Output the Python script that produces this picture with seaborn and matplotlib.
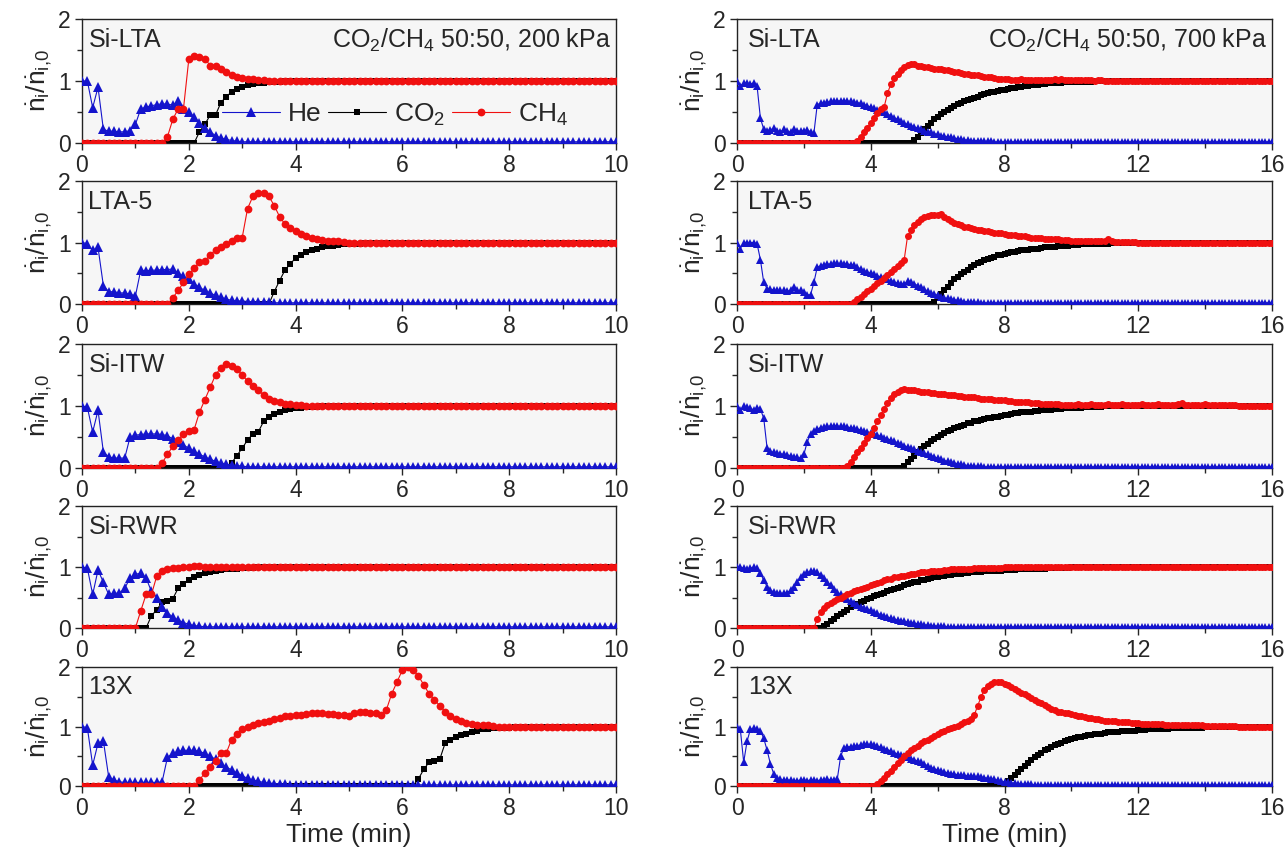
import numpy as np
import pandas as pd
import matplotlib
matplotlib.use("Agg")
import matplotlib.pyplot as plt
import seaborn as sns
from matplotlib.ticker import MultipleLocator
from matplotlib.lines import Line2D

# ---------------- data ----------------
materials = ["Si-LTA", "LTA-5", "Si-ITW", "Si-RWR", "13X"]
conditions = ["CO$_2$/CH$_4$ 50:50, 200 kPa", "CO$_2$/CH$_4$ 50:50, 700 kPa"]
species = ["He", "CO$_2$", "CH$_4$"]
xmax_200, xmax_700 = 10, 16
xticks_200 = [0, 2, 4, 6, 8, 10]
xticks_700 = [0, 4, 8, 12, 16]
yticks = [0, 1, 2]

N_L = 101   # 0 ... 10 min, 0.1 min step
N_R = 161   # 0 ... 16 min, 0.1 min step
t_200 = [round(i * 0.1, 1) for i in range(N_L)]
t_700 = [round(i * 0.1, 1) for i in range(N_R)]


def series(head, tail, n):
    return head + [tail] * (n - len(head))


# ---- 200 kPa ----
he_L_silta = [1.0, 1.0, 0.57, 0.9, 0.22, 0.19, 0.19, 0.18, 0.18, 0.2, 0.3, 0.55, 0.58, 0.6, 0.62, 0.63,
              0.63, 0.61, 0.67, 0.55, 0.5, 0.42, 0.33, 0.24, 0.18, 0.12, 0.08, 0.06, 0.04, 0.03]
co2_L_silta = [0.0] * 22 + [0.18, 0.3, 0.45, 0.45, 0.65, 0.75, 0.82, 0.87, 0.9, 0.93, 0.95, 0.96, 0.97,
                            0.98, 0.98, 0.99]
ch4_L_silta = [0.0] * 16 + [0.1, 0.38, 0.55, 0.55, 1.35, 1.4, 1.38, 1.36, 1.25, 1.25, 1.2, 1.15, 1.1,
                            1.07, 1.05, 1.04, 1.03, 1.02, 1.01]

he_L_lta5 = [1.0, 0.98, 0.87, 0.92, 0.3, 0.2, 0.2, 0.18, 0.18, 0.16, 0.13, 0.55, 0.54, 0.55, 0.55, 0.56,
             0.56, 0.57, 0.5, 0.45, 0.4, 0.33, 0.27, 0.22, 0.18, 0.14, 0.11, 0.08, 0.06, 0.05, 0.05, 0.04,
             0.04, 0.03, 0.03, 0.03]
co2_L_lta5 = [0.0] * 36 + [0.2, 0.38, 0.55, 0.65, 0.75, 0.8, 0.85, 0.88, 0.9, 0.92, 0.94, 0.95, 0.96,
                           0.97, 0.97, 0.98, 0.98, 0.99]
ch4_L_lta5 = [0.0] * 17 + [0.1, 0.22, 0.35, 0.48, 0.58, 0.68, 0.7, 0.8, 0.88, 0.93, 0.98, 1.03, 1.07,
                           1.08, 1.55, 1.75, 1.8, 1.8, 1.75, 1.6, 1.42, 1.3, 1.24, 1.18, 1.14, 1.1, 1.07,
                           1.05, 1.04, 1.03, 1.02, 1.02, 1.01]

he_L_siitw = [1.0, 0.98, 0.58, 0.93, 0.26, 0.18, 0.16, 0.16, 0.16, 0.5, 0.53, 0.54, 0.55, 0.55, 0.55,
              0.54, 0.52, 0.47, 0.42, 0.37, 0.32, 0.27, 0.22, 0.18, 0.14, 0.11, 0.08, 0.06, 0.05, 0.04,
              0.03]
co2_L_siitw = [0.0] * 28 + [0.08, 0.2, 0.32, 0.45, 0.55, 0.58, 0.75, 0.82, 0.87, 0.91, 0.93, 0.95, 0.96,
                            0.97, 0.98, 0.98, 0.99]
ch4_L_siitw = [0.0] * 15 + [0.08, 0.22, 0.35, 0.45, 0.55, 0.6, 0.62, 0.9, 1.1, 1.3, 1.5, 1.62, 1.68,
                            1.65, 1.6, 1.5, 1.4, 1.32, 1.25, 1.18, 1.12, 1.08, 1.06, 1.04, 1.03, 1.02,
                            1.01]

he_L_sirwr = [1.0, 0.98, 0.55, 0.95, 0.75, 0.55, 0.57, 0.57, 0.65, 0.82, 0.88, 0.9, 0.82, 0.6, 0.5, 0.35,
              0.25, 0.18, 0.13, 0.09, 0.06, 0.04, 0.03]
co2_L_sirwr = [0.0] * 13 + [0.2, 0.3, 0.42, 0.45, 0.48, 0.65, 0.72, 0.78, 0.83, 0.87, 0.9, 0.92, 0.94,
                            0.95, 0.96, 0.97, 0.97, 0.98, 0.98, 0.99]
ch4_L_sirwr = [0.0] * 11 + [0.28, 0.55, 0.55, 0.85, 0.93, 0.96, 0.98, 0.99, 1.0, 1.0, 1.01, 1.01]

he_L_13x = [1.0, 0.98, 0.35, 0.72, 0.76, 0.15, 0.1, 0.07, 0.06, 0.06, 0.06, 0.06, 0.06, 0.06, 0.06, 0.07,
            0.48, 0.55, 0.58, 0.6, 0.6, 0.6, 0.58, 0.55, 0.5, 0.45, 0.38, 0.32, 0.27, 0.22, 0.17, 0.13,
            0.1, 0.08, 0.06, 0.05, 0.04, 0.04, 0.03]
co2_L_13x = [0.0] * 63 + [0.12, 0.28, 0.4, 0.42, 0.45, 0.72, 0.78, 0.82, 0.85, 0.88, 0.9, 0.93, 0.95,
                          0.96, 0.97, 0.97, 0.98, 0.98, 0.99]
ch4_L_13x = [0.0] * 22 + [0.1, 0.22, 0.32, 0.42, 0.55, 0.55, 0.78, 0.88, 0.95, 1.0, 1.03, 1.06, 1.08, 1.1,
                          1.13, 1.15, 1.17, 1.18, 1.19, 1.2, 1.21, 1.22, 1.22, 1.22, 1.21, 1.21, 1.2,
                          1.19, 1.18, 1.22, 1.25, 1.25, 1.22, 1.22, 1.2, 1.28, 1.55, 1.75, 1.95, 2.0,
                          1.95, 1.85, 1.7, 1.55, 1.45, 1.35, 1.25, 1.18, 1.13, 1.09, 1.06, 1.04, 1.03,
                          1.02, 1.02, 1.01]

# ---- 700 kPa ----
he_R_silta = [1.0, 0.92, 0.97, 0.97, 0.95, 0.97, 0.92, 0.4, 0.22, 0.2,
              0.21, 0.24, 0.2, 0.18, 0.22, 0.2, 0.17, 0.22, 0.2, 0.19,
              0.2, 0.21, 0.18, 0.16, 0.62, 0.64, 0.65, 0.66, 0.67, 0.67,
              0.68, 0.68, 0.68, 0.68, 0.67, 0.66, 0.65, 0.64, 0.62, 0.6,
              0.58, 0.56, 0.54, 0.52, 0.5, 0.47, 0.44, 0.41, 0.38, 0.35,
              0.32, 0.3, 0.28, 0.26, 0.24, 0.22, 0.2, 0.18, 0.17, 0.15,
              0.14, 0.12, 0.11, 0.1, 0.09, 0.08, 0.07, 0.06, 0.05, 0.05,
              0.04, 0.04, 0.04, 0.03, 0.03, 0.03, 0.03]
ch4_R_silta = [0.0] * 36 + [0.04, 0.1, 0.17, 0.25,
                            0.32, 0.4, 0.48, 0.55, 0.58, 0.8, 0.95, 1.05, 1.12, 1.18,
                            1.22, 1.26, 1.28, 1.27, 1.25, 1.24, 1.23, 1.22, 1.21, 1.2,
                            1.2, 1.19, 1.18, 1.17, 1.16, 1.15, 1.14, 1.13, 1.12, 1.11,
                            1.1, 1.1, 1.09, 1.08, 1.07, 1.07, 1.06, 1.05, 1.04, 1.04,
                            1.03, 1.03, 1.02, 1.02, 1.02, 1.03, 1.02, 1.02, 1.01, 1.02,
                            1.02, 1.01, 1.02, 1.01, 1.01, 1.03, 1.02, 1.04, 1.01, 1.02,
                            1.01, 1.02, 1.01, 1.01, 1.02, 1.01, 1.01, 1.0, 1.01, 1.01]
co2_R_silta = [0.0] * 53 + [0.05, 0.1, 0.16, 0.22, 0.28, 0.33, 0.38,
                            0.42, 0.46, 0.5, 0.54, 0.57, 0.6, 0.63, 0.65, 0.67, 0.69,
                            0.71, 0.73, 0.75, 0.77, 0.79, 0.8, 0.82, 0.83, 0.84, 0.85,
                            0.86, 0.87, 0.88, 0.89, 0.9, 0.91, 0.92, 0.92, 0.93, 0.94,
                            0.94, 0.95, 0.95, 0.96, 0.96, 0.97, 0.97, 0.97, 0.98, 0.98,
                            0.98, 0.98, 0.99, 0.99, 0.99, 0.99, 0.99]

he_R_lta5 = [1.0, 0.9, 1.0, 1.0, 1.0, 1.0, 0.98, 0.72, 0.35, 0.25,
             0.24, 0.23, 0.22, 0.22, 0.22, 0.21, 0.22, 0.28, 0.22, 0.22,
             0.2, 0.15, 0.15, 0.35, 0.6, 0.62, 0.64, 0.65, 0.65, 0.66,
             0.66, 0.66, 0.65, 0.65, 0.64, 0.63, 0.6, 0.57, 0.54, 0.52,
             0.5, 0.48, 0.46, 0.44, 0.42, 0.4, 0.38, 0.36, 0.34, 0.33,
             0.32, 0.38, 0.36, 0.33, 0.3, 0.27, 0.24, 0.21, 0.18, 0.16,
             0.14, 0.12, 0.1, 0.09, 0.08, 0.07, 0.06, 0.05, 0.04, 0.04,
             0.03, 0.03, 0.03]
ch4_R_lta5 = [0.0] * 35 + [0.04, 0.08, 0.12, 0.17, 0.21,
                           0.25, 0.3, 0.34, 0.38, 0.43, 0.47, 0.52, 0.57, 0.62, 0.66,
                           0.72, 1.1, 1.2, 1.28, 1.34, 1.38, 1.41, 1.43, 1.44, 1.45,
                           1.45, 1.46, 1.42, 1.38, 1.35, 1.32, 1.3, 1.28, 1.26, 1.25,
                           1.24, 1.22, 1.21, 1.2, 1.19, 1.18, 1.17, 1.16, 1.15, 1.15,
                           1.14, 1.13, 1.12, 1.12, 1.11, 1.1, 1.1, 1.09, 1.08, 1.08,
                           1.07, 1.07, 1.06, 1.06, 1.05, 1.05, 1.05, 1.04, 1.04, 1.04,
                           1.03, 1.03, 1.03, 1.03, 1.02, 1.02, 1.02, 1.02, 1.02, 1.02,
                           1.02, 1.05, 1.02, 1.01, 1.01, 1.01, 1.01, 1.01, 1.01, 1.01]
co2_R_lta5 = [0.0] * 59 + [0.04, 0.1, 0.16, 0.22, 0.28, 0.34, 0.4, 0.44, 0.48, 0.52, 0.56,
                           0.6, 0.63, 0.66, 0.69, 0.71, 0.73, 0.75, 0.77, 0.79, 0.8,
                           0.81, 0.83, 0.84, 0.85, 0.86, 0.87, 0.88, 0.88, 0.89, 0.9,
                           0.9, 0.91, 0.92, 0.92, 0.93, 0.93, 0.94, 0.94, 0.95, 0.95,
                           0.96, 0.96, 0.96, 0.97, 0.97, 0.97, 0.97, 0.98, 0.98, 0.98,
                           0.98, 0.98, 0.99, 0.99, 0.99, 0.99, 0.99, 0.99, 0.99, 0.99]

he_R_siitw = [1.0, 0.93, 1.0, 0.98, 0.97, 0.93, 0.97, 0.95, 0.8, 0.32,
              0.27, 0.25, 0.24, 0.23, 0.22, 0.21, 0.2, 0.18, 0.17, 0.16,
              0.22, 0.42, 0.55, 0.6, 0.63, 0.65, 0.66, 0.67, 0.68, 0.68,
              0.68, 0.67, 0.67, 0.66, 0.65, 0.64, 0.63, 0.61, 0.6, 0.58,
              0.57, 0.55, 0.53, 0.51, 0.49, 0.47, 0.45, 0.43, 0.41, 0.38,
              0.36, 0.34, 0.32, 0.3, 0.28, 0.26, 0.24, 0.22, 0.2, 0.18,
              0.16, 0.14, 0.12, 0.11, 0.1, 0.08, 0.07, 0.06, 0.05, 0.04,
              0.04, 0.03, 0.03, 0.03]
ch4_R_siitw = [0.0] * 33 + [0.04, 0.1, 0.17, 0.25, 0.33, 0.41, 0.48,
                            0.55, 0.65, 0.75, 0.85, 0.95, 1.05, 1.13, 1.19, 1.23, 1.26,
                            1.27, 1.26, 1.25, 1.25, 1.24, 1.23, 1.23, 1.22, 1.21, 1.21,
                            1.2, 1.19, 1.19, 1.18, 1.17, 1.17, 1.16, 1.16, 1.15, 1.15,
                            1.14, 1.14, 1.13, 1.12, 1.12, 1.11, 1.11, 1.1, 1.1, 1.09,
                            1.09, 1.08, 1.08, 1.07, 1.07, 1.07, 1.06, 1.06, 1.05, 1.05,
                            1.05, 1.04, 1.04, 1.04, 1.03, 1.03, 1.03, 1.02, 1.02, 1.02,
                            1.02, 1.01, 1.03, 1.02, 1.01, 1.02, 1.03, 1.01, 1.02, 1.02,
                            1.01, 1.03, 1.02, 1.01, 1.02, 1.03, 1.02, 1.01, 1.02, 1.01,
                            1.02, 1.03, 1.01, 1.02, 1.02, 1.01, 1.03, 1.02, 1.01, 1.02,
                            1.01, 1.02, 1.03, 1.05, 1.02, 1.01, 1.02, 1.01, 1.02, 1.02,
                            1.03, 1.02, 1.01, 1.02, 1.01, 1.02, 1.02, 1.01, 1.01, 1.02]
co2_R_siitw = [0.0] * 50 + [0.04, 0.1, 0.15, 0.2, 0.25, 0.3, 0.35, 0.39, 0.43, 0.47,
                            0.5, 0.53, 0.56, 0.59, 0.62, 0.64, 0.66, 0.68, 0.7, 0.72,
                            0.73, 0.75, 0.76, 0.78, 0.79, 0.8, 0.81, 0.82, 0.83, 0.84,
                            0.85, 0.86, 0.87, 0.88, 0.89, 0.9, 0.9, 0.91, 0.91, 0.92,
                            0.92, 0.93, 0.93, 0.94, 0.94, 0.95, 0.95, 0.95, 0.96, 0.96,
                            0.96, 0.97, 0.97, 0.97, 0.98, 0.98, 0.98, 0.98, 0.99, 0.99]

he_R_sirwr = [1.0, 1.0, 0.98, 0.97, 0.98, 1.0, 0.98, 0.9, 0.78, 0.68,
              0.62, 0.59, 0.58, 0.57, 0.57, 0.58, 0.62, 0.68, 0.76, 0.83,
              0.88, 0.91, 0.93, 0.93, 0.91, 0.87, 0.82, 0.76, 0.7, 0.64,
              0.59, 0.55, 0.5, 0.47, 0.44, 0.41, 0.38, 0.35, 0.33, 0.31,
              0.29, 0.26, 0.24, 0.22, 0.2, 0.18, 0.16, 0.15, 0.13, 0.12,
              0.11, 0.1, 0.09, 0.08, 0.07, 0.06, 0.05, 0.05, 0.04, 0.04,
              0.03, 0.03, 0.03]
ch4_R_sirwr = [0.0] * 24 + [0.15, 0.26, 0.32, 0.37, 0.41, 0.44,
                            0.47, 0.5, 0.53, 0.55, 0.58, 0.6, 0.62, 0.64, 0.66, 0.68,
                            0.7, 0.72, 0.74, 0.76, 0.78, 0.8, 0.81, 0.83, 0.84, 0.85,
                            0.86, 0.87, 0.88, 0.89, 0.9, 0.91, 0.91, 0.92, 0.93, 0.93,
                            0.94, 0.94, 0.95, 0.95, 0.96, 0.96, 0.96, 0.97, 0.97, 0.97,
                            0.97, 0.98, 0.98, 0.98, 0.98, 0.99, 0.99, 0.99, 0.99, 0.99]
co2_R_sirwr = [0.0] * 26 + [0.03, 0.07, 0.11, 0.15,
                            0.19, 0.23, 0.27, 0.3, 0.34, 0.37, 0.4, 0.43, 0.45, 0.48,
                            0.5, 0.52, 0.54, 0.56, 0.58, 0.6, 0.62, 0.64, 0.66, 0.68,
                            0.7, 0.72, 0.73, 0.75, 0.76, 0.78, 0.79, 0.8, 0.82, 0.83,
                            0.84, 0.85, 0.86, 0.87, 0.87, 0.88, 0.89, 0.89, 0.9, 0.9,
                            0.91, 0.91, 0.92, 0.92, 0.93, 0.93, 0.93, 0.94, 0.94, 0.94,
                            0.95, 0.95, 0.95, 0.95, 0.96, 0.96, 0.96, 0.96, 0.97, 0.97,
                            0.97, 0.97, 0.97, 0.98, 0.98, 0.98, 0.98, 0.98, 0.98, 0.99]

he_R_13x = [1.0, 0.95, 0.4, 0.75, 0.95, 0.97, 0.95, 0.93, 0.8, 0.6,
            0.37, 0.2, 0.13, 0.11, 0.1, 0.1, 0.1, 0.09, 0.09, 0.1,
            0.1, 0.09, 0.1, 0.1, 0.09, 0.1, 0.1, 0.11, 0.1, 0.1,
            0.12, 0.5, 0.64, 0.66, 0.66, 0.67, 0.68, 0.69, 0.7, 0.7,
            0.7, 0.69, 0.67, 0.65, 0.63, 0.61, 0.59, 0.56, 0.54, 0.52,
            0.5, 0.48, 0.46, 0.44, 0.42, 0.4, 0.37, 0.34, 0.31, 0.29,
            0.27, 0.25, 0.24, 0.22, 0.21, 0.2, 0.19, 0.18, 0.18, 0.17,
            0.17, 0.16, 0.16, 0.15, 0.14, 0.13, 0.12, 0.11, 0.1, 0.08,
            0.07, 0.06, 0.05, 0.05, 0.04, 0.04, 0.03, 0.03, 0.03]
ch4_R_13x = [0.0] * 42 + [0.03, 0.08, 0.14, 0.2, 0.26, 0.32, 0.38, 0.44,
                          0.5, 0.55, 0.6, 0.64, 0.68, 0.72, 0.75, 0.78, 0.81, 0.84,
                          0.87, 0.9, 0.93, 0.95, 0.97, 0.99, 1.01, 1.04, 1.07, 1.1,
                          1.13, 1.2, 1.35, 1.5, 1.62, 1.68, 1.72, 1.74, 1.75, 1.74,
                          1.72, 1.69, 1.66, 1.63, 1.6, 1.57, 1.54, 1.51, 1.48, 1.45,
                          1.42, 1.39, 1.36, 1.33, 1.3, 1.27, 1.25, 1.24, 1.23, 1.22,
                          1.21, 1.2, 1.18, 1.17, 1.16, 1.15, 1.14, 1.13, 1.12, 1.11,
                          1.1, 1.1, 1.09, 1.09, 1.08, 1.08, 1.07, 1.07, 1.06, 1.06,
                          1.06, 1.05, 1.05, 1.05, 1.04, 1.04, 1.04, 1.04, 1.03, 1.03,
                          1.03, 1.03, 1.03, 1.02, 1.02, 1.02, 1.02, 1.02, 1.02, 1.02,
                          1.01, 1.01, 1.01, 1.01, 1.01, 1.01, 1.01, 1.01, 1.01, 1.01]
co2_R_13x = [0.0] * 80 + [0.03, 0.08, 0.13, 0.18, 0.23, 0.28, 0.33, 0.38, 0.43, 0.48,
                          0.52, 0.56, 0.6, 0.63, 0.66, 0.69, 0.71, 0.73, 0.75, 0.77,
                          0.79, 0.8, 0.82, 0.83, 0.84, 0.85, 0.86, 0.87, 0.88, 0.88,
                          0.89, 0.9, 0.9, 0.91, 0.91, 0.92, 0.92, 0.93, 0.93, 0.93,
                          0.94, 0.94, 0.94, 0.95, 0.95, 0.95, 0.96, 0.96, 0.96, 0.96,
                          0.97, 0.97, 0.97, 0.97, 0.97, 0.98, 0.98, 0.98, 0.98, 0.98,
                          0.99, 0.99, 0.99, 0.99, 0.99, 0.99, 0.99, 0.99, 0.99, 0.99]

left_he = [he_L_silta, he_L_lta5, he_L_siitw, he_L_sirwr, he_L_13x]
left_co2 = [co2_L_silta, co2_L_lta5, co2_L_siitw, co2_L_sirwr, co2_L_13x]
left_ch4 = [ch4_L_silta, ch4_L_lta5, ch4_L_siitw, ch4_L_sirwr, ch4_L_13x]
right_he = [he_R_silta, he_R_lta5, he_R_siitw, he_R_sirwr, he_R_13x]
right_co2 = [co2_R_silta, co2_R_lta5, co2_R_siitw, co2_R_sirwr, co2_R_13x]
right_ch4 = [ch4_R_silta, ch4_R_lta5, ch4_R_siitw, ch4_R_sirwr, ch4_R_13x]

# ---------------- style ----------------
sns.set_style("ticks")
plt.rcParams["font.family"] = ["Liberation Sans", "DejaVu Sans"]
plt.rcParams["mathtext.fontset"] = "custom"
plt.rcParams["mathtext.rm"] = "Liberation Sans"
plt.rcParams["mathtext.it"] = "Liberation Sans:italic"
plt.rcParams["mathtext.default"] = "regular"

C_HE, C_CO2, C_CH4 = "#1414cc", "#000000", "#f01010"
W, H = 1287, 850
fig = plt.figure(figsize=(W / 100, H / 100), dpi=100)

col_x = [(82, 534), (737, 535)]
rows_px = [(19, 143), (181, 304), (344, 468), (506, 628), (667, 786)]
MS_HE, MS_CO2, MS_CH4 = 6.5, 4.6, 5.6

for c in range(2):
    t = t_200 if c == 0 else t_700
    n = N_L if c == 0 else N_R
    he_l = left_he if c == 0 else right_he
    co2_l = left_co2 if c == 0 else right_co2
    ch4_l = left_ch4 if c == 0 else right_ch4
    k = 1.0 if c == 0 else 0.9
    for r in range(5):
        x0, w = col_x[c]
        top, bot = rows_px[r]
        ax = fig.add_axes([x0 / W, 1 - bot / H, w / W, (bot - top) / H])
        ax.set_facecolor("#f6f6f6")
        df = pd.DataFrame({"t": t,
                           "He": series(he_l[r], 0.02, n),
                           "CO2": series(co2_l[r], 1.0, n),
                           "CH4": series(ch4_l[r], 1.0, n)})
        sns.lineplot(data=df, x="t", y="CO2", ax=ax, color=C_CO2, marker="s",
                     markersize=MS_CO2 * k, markeredgewidth=0, linewidth=0.8,
                     zorder=2, legend=False, estimator=None)
        sns.lineplot(data=df, x="t", y="He", ax=ax, color=C_HE, marker="^",
                     markersize=MS_HE * k, markeredgewidth=0, linewidth=0.8,
                     zorder=3, legend=False, estimator=None)
        sns.lineplot(data=df, x="t", y="CH4", ax=ax, color=C_CH4, marker="o",
                     markersize=MS_CH4 * k, markeredgewidth=0, linewidth=0.8,
                     zorder=4, legend=False, estimator=None)

        xmax = xmax_200 if c == 0 else xmax_700
        ax.set_xlim(0, xmax)
        ax.set_ylim(0, 2)
        ax.set_xticks(xticks_200 if c == 0 else xticks_700)
        ax.xaxis.set_minor_locator(MultipleLocator(1 if c == 0 else 2))
        ax.set_yticks(yticks)
        ax.yaxis.set_minor_locator(MultipleLocator(0.5))
        ax.tick_params(which="major", direction="out", length=5, width=1, labelsize=16.5,
                       top=False, right=False, pad=3)
        ax.tick_params(which="minor", direction="out", length=3.5, width=1,
                       top=False, right=False)
        for sp in ax.spines.values():
            sp.set_visible(True)
            sp.set_linewidth(1.0)
            sp.set_color("#222222")
        ax.set_ylabel(r"$\dot{n}_i/\dot{n}_{i{,}0}$", fontsize=19, labelpad=3)
        if r == 4:
            ax.set_xlabel("Time (min)", fontsize=19, labelpad=2)
        else:
            ax.set_xlabel("")
        ax.text(0.012 if c == 0 else 0.02, 0.83, materials[r], transform=ax.transAxes,
                fontsize=18, ha="left", va="center")
        if r == 0:
            ax.text(0.99, 0.83, conditions[c], transform=ax.transAxes,
                    fontsize=18, ha="right", va="center")
        if c == 0 and r == 0:
            handles = [Line2D([], [], color=C_HE, marker="^", markersize=MS_HE, markeredgewidth=0, lw=0.8),
                       Line2D([], [], color=C_CO2, marker="s", markersize=MS_CO2, markeredgewidth=0, lw=0.8),
                       Line2D([], [], color=C_CH4, marker="o", markersize=MS_CH4, markeredgewidth=0, lw=0.8)]
            ax.legend(handles, species, loc="center left", bbox_to_anchor=(0.262, 0.23),
                      ncol=3, frameon=False, fontsize=19, handlelength=2.2,
                      handletextpad=0.3, columnspacing=0.25, borderaxespad=0, borderpad=0)

fig.savefig("out.png", dpi=100)
